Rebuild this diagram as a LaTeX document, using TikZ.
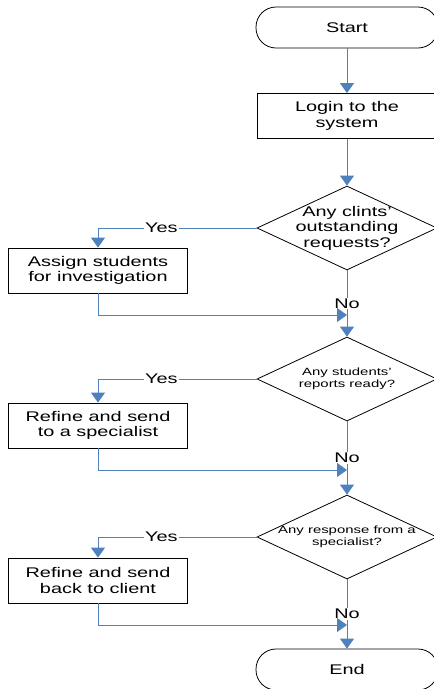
\documentclass[tikz,border=0pt]{standalone}
\usepackage{fontspec}
\setmainfont{Liberation Sans}
\newfontfamily\flowfont[FakeStretch=1.42]{Liberation Sans}
\usetikzlibrary{shapes.geometric,arrows.meta}
\definecolor{flowblue}{RGB}{79,129,189}

\begin{document}
\begin{tikzpicture}[x=1pt,y=-1pt,
		bigtext/.style={font=\flowfont\fontsize{14}{15.5}\selectfont, align=center, inner sep=0pt},
		smalltext/.style={font=\flowfont\fontsize{10.5}{11.5}\selectfont, align=center, inner sep=0pt},
		terminal/.style={bigtext, draw=black, line width=0.8pt, rectangle, rounded corners=20pt, minimum width=182pt, minimum height=41pt},
		process/.style={bigtext, draw=black, line width=0.8pt, rectangle, minimum width=179pt, minimum height=45pt},
		decision/.style={draw=black, line width=0.8pt, diamond, inner sep=0pt, minimum width=180pt, minimum height=84pt},
		flow/.style={draw=flowblue, line width=1pt, -{Triangle[width=14pt,length=10pt]}},
		lbl/.style={bigtext, fill=white, inner sep=1pt}]
		\useasboundingbox (0,0) rectangle (434,689);
		\node[terminal] (start) at (347,27.5) {Start};
		\node[process] (login) at (347,116) {Login to the\\system};
		\node[decision] (clients) at (347,228) {};
		\node[bigtext] (clientsq) at (clients) {Any clints’\\outstanding\\requests?};
		\node[process] (assign) at (98,270.5) {Assign students\\for investigation};
		\node[decision] (reports) at (347,379) {};
		\node[smalltext] (reportsq) at (reports) {Any students’\\reports ready?};
		\node[process] (tospec) at (98,425.5) {Refine and send\\to a specialist};
		\node[decision] (response) at (347,537) {};
		\node[smalltext] (responseq) at (response) {Any response from a\\specialist?};
		\node[process] (toclient) at (98,580.5) {Refine and send\\back to client};
		\node[terminal] (end) at (347,669.5) {End};
		\coordinate (m1) at (347,315);
		\coordinate (m2) at (347,470);
		\coordinate (m3) at (347,625);
		\draw[flow] (start) -- (login);
		\draw[flow] (login) -- (clients);
		\draw[flow] (clients.west) -| node[lbl, pos=0.3] {Yes} (assign);
		\draw[flow] (clients) -- node[lbl] {No} (reports);
		\draw[flow] (assign) |- (m1);
		\draw[flow] (reports.west) -| node[lbl, pos=0.3] {Yes} (tospec);
		\draw[flow] (reports) -- node[lbl] {No} (response);
		\draw[flow] (tospec) |- (m2);
		\draw[flow] (response.west) -| node[lbl, pos=0.3] {Yes} (toclient);
		\draw[flow] (response) -- node[lbl] {No} (end);
		\draw[flow] (toclient) |- (m3);
	\end{tikzpicture}
\end{document}
